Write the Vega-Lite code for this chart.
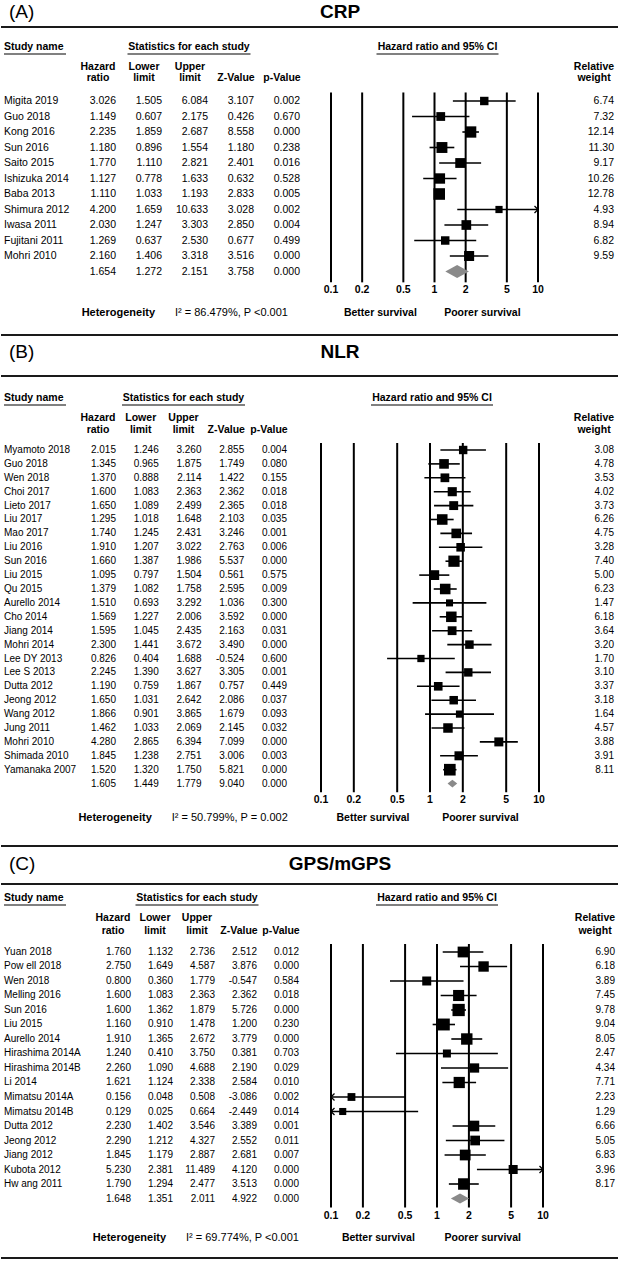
{
"$schema": "https://vega.github.io/schema/vega-lite/v6.json",
"padding": 0,
"spacing": 0,
"config": {"view": {"stroke": null}, "font": "Liberation Sans", "text": {"font": "Liberation Sans", "fontSize": 10.5, "color": "#000"}, "concat": {"spacing": 0}, "locale": {"number": {"decimal": ".", "thousands": ",", "grouping": [3], "currency": ["$", ""], "minus": "-"}}},
"datasets": {
"A": [
{"study":"Migita 2019","hr":3.026,"lo":1.505,"hi":6.084,"z":3.107,"p":0.002,"w":6.74,"order":0},
{"study":"Guo  2018","hr":1.149,"lo":0.607,"hi":2.175,"z":0.426,"p":0.670,"w":7.32,"order":1},
{"study":"Kong 2016","hr":2.235,"lo":1.859,"hi":2.687,"z":8.558,"p":0.000,"w":12.14,"order":2},
{"study":"Sun 2016","hr":1.180,"lo":0.896,"hi":1.554,"z":1.180,"p":0.238,"w":11.30,"order":3},
{"study":"Saito 2015","hr":1.770,"lo":1.110,"hi":2.821,"z":2.401,"p":0.016,"w":9.17,"order":4},
{"study":"Ishizuka 2014","hr":1.127,"lo":0.778,"hi":1.633,"z":0.632,"p":0.528,"w":10.26,"order":5},
{"study":"Baba 2013","hr":1.110,"lo":1.033,"hi":1.193,"z":2.833,"p":0.005,"w":12.78,"order":6},
{"study":"Shimura 2012","hr":4.200,"lo":1.659,"hi":10.633,"z":3.028,"p":0.002,"w":4.93,"order":7},
{"study":"Iwasa 2011","hr":2.030,"lo":1.247,"hi":3.303,"z":2.850,"p":0.004,"w":8.94,"order":8},
{"study":"Fujitani 2011","hr":1.269,"lo":0.637,"hi":2.530,"z":0.677,"p":0.499,"w":6.82,"order":9},
{"study":"Mohri 2010","hr":2.160,"lo":1.406,"hi":3.318,"z":3.516,"p":0.000,"w":9.59,"order":10},
{"study":"","hr":1.654,"lo":1.272,"hi":2.151,"z":3.758,"p":0.000,"w":null,"order":11}
],
"B": [
{"study":"Myamoto 2018","hr":2.015,"lo":1.246,"hi":3.260,"z":2.855,"p":0.004,"w":3.08,"order":0},
{"study":"Guo  2018","hr":1.345,"lo":0.965,"hi":1.875,"z":1.749,"p":0.080,"w":4.78,"order":1},
{"study":"Wen 2018","hr":1.370,"lo":0.888,"hi":2.114,"z":1.422,"p":0.155,"w":3.53,"order":2},
{"study":"Choi 2017","hr":1.600,"lo":1.083,"hi":2.363,"z":2.362,"p":0.018,"w":4.02,"order":3},
{"study":"Lieto 2017","hr":1.650,"lo":1.089,"hi":2.499,"z":2.365,"p":0.018,"w":3.73,"order":4},
{"study":"Liu 2017","hr":1.295,"lo":1.018,"hi":1.648,"z":2.103,"p":0.035,"w":6.26,"order":5},
{"study":"Mao 2017","hr":1.740,"lo":1.245,"hi":2.431,"z":3.246,"p":0.001,"w":4.75,"order":6},
{"study":"Liu 2016","hr":1.910,"lo":1.207,"hi":3.022,"z":2.763,"p":0.006,"w":3.28,"order":7},
{"study":"Sun 2016","hr":1.660,"lo":1.387,"hi":1.986,"z":5.537,"p":0.000,"w":7.40,"order":8},
{"study":"Liu 2015","hr":1.095,"lo":0.797,"hi":1.504,"z":0.561,"p":0.575,"w":5.00,"order":9},
{"study":"Qu 2015","hr":1.379,"lo":1.082,"hi":1.758,"z":2.595,"p":0.009,"w":6.23,"order":10},
{"study":"Aurello 2014","hr":1.510,"lo":0.693,"hi":3.292,"z":1.036,"p":0.300,"w":1.47,"order":11},
{"study":"Cho 2014","hr":1.569,"lo":1.227,"hi":2.006,"z":3.592,"p":0.000,"w":6.18,"order":12},
{"study":"Jiang 2014","hr":1.595,"lo":1.045,"hi":2.435,"z":2.163,"p":0.031,"w":3.64,"order":13},
{"study":"Mohri 2014","hr":2.300,"lo":1.441,"hi":3.672,"z":3.490,"p":0.000,"w":3.20,"order":14},
{"study":"Lee DY 2013","hr":0.826,"lo":0.404,"hi":1.688,"z":-0.524,"p":0.600,"w":1.70,"order":15},
{"study":"Lee S 2013","hr":2.245,"lo":1.390,"hi":3.627,"z":3.305,"p":0.001,"w":3.10,"order":16},
{"study":"Dutta 2012","hr":1.190,"lo":0.759,"hi":1.867,"z":0.757,"p":0.449,"w":3.37,"order":17},
{"study":"Jeong 2012","hr":1.650,"lo":1.031,"hi":2.642,"z":2.086,"p":0.037,"w":3.18,"order":18},
{"study":"Wang 2012","hr":1.866,"lo":0.901,"hi":3.865,"z":1.679,"p":0.093,"w":1.64,"order":19},
{"study":"Jung 2011","hr":1.462,"lo":1.033,"hi":2.069,"z":2.145,"p":0.032,"w":4.57,"order":20},
{"study":"Mohri 2010","hr":4.280,"lo":2.865,"hi":6.394,"z":7.099,"p":0.000,"w":3.88,"order":21},
{"study":"Shimada 2010","hr":1.845,"lo":1.238,"hi":2.751,"z":3.006,"p":0.003,"w":3.91,"order":22},
{"study":"Yamanaka 2007","hr":1.520,"lo":1.320,"hi":1.750,"z":5.821,"p":0.000,"w":8.11,"order":23},
{"study":"","hr":1.605,"lo":1.449,"hi":1.779,"z":9.040,"p":0.000,"w":null,"order":24}
],
"C": [
{"study":"Yuan 2018","hr":1.760,"lo":1.132,"hi":2.736,"z":2.512,"p":0.012,"w":6.90,"order":0},
{"study":"Pow ell 2018","hr":2.750,"lo":1.649,"hi":4.587,"z":3.876,"p":0.000,"w":6.18,"order":1},
{"study":"Wen 2018","hr":0.800,"lo":0.360,"hi":1.779,"z":-0.547,"p":0.584,"w":3.89,"order":2},
{"study":"Melling 2016","hr":1.600,"lo":1.083,"hi":2.363,"z":2.362,"p":0.018,"w":7.45,"order":3},
{"study":"Sun 2016","hr":1.600,"lo":1.362,"hi":1.879,"z":5.726,"p":0.000,"w":9.78,"order":4},
{"study":"Liu 2015","hr":1.160,"lo":0.910,"hi":1.478,"z":1.200,"p":0.230,"w":9.04,"order":5},
{"study":"Aurello 2014","hr":1.910,"lo":1.365,"hi":2.672,"z":3.779,"p":0.000,"w":8.05,"order":6},
{"study":"Hirashima 2014A","hr":1.240,"lo":0.410,"hi":3.750,"z":0.381,"p":0.703,"w":2.47,"order":7},
{"study":"Hirashima 2014B","hr":2.260,"lo":1.090,"hi":4.688,"z":2.190,"p":0.029,"w":4.34,"order":8},
{"study":"Li 2014","hr":1.621,"lo":1.124,"hi":2.338,"z":2.584,"p":0.010,"w":7.71,"order":9},
{"study":"Mimatsu 2014A","hr":0.156,"lo":0.048,"hi":0.508,"z":-3.086,"p":0.002,"w":2.23,"order":10},
{"study":"Mimatsu 2014B","hr":0.129,"lo":0.025,"hi":0.664,"z":-2.449,"p":0.014,"w":1.29,"order":11},
{"study":"Dutta 2012","hr":2.230,"lo":1.402,"hi":3.546,"z":3.389,"p":0.001,"w":6.66,"order":12},
{"study":"Jeong 2012","hr":2.290,"lo":1.212,"hi":4.327,"z":2.552,"p":0.011,"w":5.05,"order":13},
{"study":"Jiang 2012","hr":1.845,"lo":1.179,"hi":2.887,"z":2.681,"p":0.007,"w":6.83,"order":14},
{"study":"Kubota 2012","hr":5.230,"lo":2.381,"hi":11.489,"z":4.120,"p":0.000,"w":3.96,"order":15},
{"study":"Hw ang 2011","hr":1.790,"lo":1.294,"hi":2.477,"z":3.513,"p":0.000,"w":8.17,"order":16},
{"study":"","hr":1.648,"lo":1.351,"hi":2.011,"z":4.922,"p":0.000,"w":null,"order":17}
],
"ticks": [{"t":0.1},{"t":0.2},{"t":0.5},{"t":1},{"t":2},{"t":5},{"t":10}],
"headers": [{"col":"hr","label":"Hazard|ratio"},{"col":"lo","label":"Lower|limit"},{"col":"hi","label":"Upper|limit"},{"col":"z","label":" |Z-Value"},{"col":"p","label":" |p-Value"}]
},
"vconcat": [
{"width":618,"height":334,
"resolve":{"scale":{"x":"independent","size":"independent"}},
"layer":[
{"data":{"values":[{}]},"mark":{"type":"rule","strokeWidth":2,"color":"#1a1a1a"},"encoding":{"y":{"datum":-4.774,"type":"quantitative","scale":{"domain":[-6.516,15.032],"reverse":true,"nice":false,"zero":false},"axis":null}}},
{"data":{"values":[{}]},"mark":{"type":"text","align":"left","baseline":"middle","fontSize":19,"dx":5},"encoding":{"x":{"datum":"n","type":"nominal","scale":{"domain":["n"],"range":[3,3]},"axis":null},"y":{"datum":-5.742,"type":"quantitative","scale":{"domain":[-6.516,15.032],"reverse":true,"nice":false,"zero":false},"axis":null},"text":{"value":"(A)"}}},
{"data":{"values":[{}]},"mark":{"type":"text","align":"center","baseline":"middle","fontSize":19,"fontWeight":"bold","dx":336},"encoding":{"x":{"datum":"n","type":"nominal","scale":{"domain":["n"],"range":[3,3]},"axis":null},"y":{"datum":-5.742,"type":"quantitative","scale":{"domain":[-6.516,15.032],"reverse":true,"nice":false,"zero":false},"axis":null},"text":{"value":"CRP"}}},
{"data":{"values":[{}]},"mark":{"type":"text","align":"left","baseline":"middle","fontWeight":"bold"},"encoding":{"x":{"datum":"n","type":"nominal","scale":{"domain":["n"],"range":[3,3]},"axis":null},"y":{"datum":-3.484,"type":"quantitative","scale":{"domain":[-6.516,15.032],"reverse":true,"nice":false,"zero":false},"axis":null},"text":{"value":"Study name"}}},
{"data":{"values":[{}]},"mark":{"type":"tick","orient":"horizontal","size":62,"thickness":2,"xOffset":31,"color":"#808080","opacity":1},"encoding":{"x":{"datum":"n","type":"nominal","scale":{"domain":["n"],"range":[3,3]},"axis":null},"y":{"datum":-3.032,"type":"quantitative","scale":{"domain":[-6.516,15.032],"reverse":true,"nice":false,"zero":false},"axis":null}}},
{"data":{"values":[{}]},"mark":{"type":"text","align":"center","baseline":"middle","fontWeight":"bold","dx":-19},"encoding":{"x":{"datum":"hi","type":"nominal","scale":{"domain":["hr","lo","hi","z","p"],"range":[115,299],"padding":0},"axis":null},"y":{"datum":-3.484,"type":"quantitative","scale":{"domain":[-6.516,15.032],"reverse":true,"nice":false,"zero":false},"axis":null},"text":{"value":"Statistics for each study"}}},
{"data":{"values":[{}]},"mark":{"type":"tick","orient":"horizontal","size":123,"thickness":2,"xOffset":-19,"color":"#808080","opacity":1},"encoding":{"x":{"datum":"hi","type":"nominal","scale":{"domain":["hr","lo","hi","z","p"],"range":[115,299],"padding":0},"axis":null},"y":{"datum":-3.032,"type":"quantitative","scale":{"domain":[-6.516,15.032],"reverse":true,"nice":false,"zero":false},"axis":null}}},
{"data":{"values":[{}]},"mark":{"type":"text","align":"center","baseline":"middle","fontWeight":"bold","dx":3},"encoding":{"x":{"datum":1,"type":"quantitative","scale":{"type":"log","domain":[0.1,10],"range":[330,537],"clamp":true,"nice":false},"axis":null},"y":{"datum":-3.484,"type":"quantitative","scale":{"domain":[-6.516,15.032],"reverse":true,"nice":false,"zero":false},"axis":null},"text":{"value":"Hazard ratio and 95% CI"}}},
{"data":{"values":[{}]},"mark":{"type":"tick","orient":"horizontal","size":122,"thickness":2,"xOffset":3,"color":"#808080","opacity":1},"encoding":{"x":{"datum":1,"type":"quantitative","scale":{"type":"log","domain":[0.1,10],"range":[330,537],"clamp":true,"nice":false},"axis":null},"y":{"datum":-3.032,"type":"quantitative","scale":{"domain":[-6.516,15.032],"reverse":true,"nice":false,"zero":false},"axis":null}}},
{"data":{"name":"headers"},"mark":{"type":"text","align":"center","baseline":"middle","fontWeight":"bold","lineBreak":"|","lineHeight":11.5,"dx":-18},"encoding":{"x":{"field":"col","type":"nominal","scale":{"domain":["hr","lo","hi","z","p"],"range":[115,299],"padding":0},"axis":null},"y":{"datum":-2.194,"type":"quantitative","scale":{"domain":[-6.516,15.032],"reverse":true,"nice":false,"zero":false},"axis":null},"text":{"field":"label"}}},
{"data":{"values":[{}]},"mark":{"type":"text","align":"center","baseline":"middle","fontWeight":"bold","lineBreak":"|","lineHeight":11.5,"dx":-20},"encoding":{"x":{"datum":"w","type":"nominal","scale":{"domain":["w"],"range":[613,613]},"axis":null},"y":{"datum":-2.194,"type":"quantitative","scale":{"domain":[-6.516,15.032],"reverse":true,"nice":false,"zero":false},"axis":null},"text":{"value":"Relative|weight"}}},
{"data":{"name":"A"},"mark":{"type":"text","align":"left","baseline":"middle"},"encoding":{"x":{"field":"study","type":"nominal","scale":{"range":[3,3]},"axis":null},"y":{"field":"order","type":"quantitative","scale":{"domain":[-6.516,15.032],"reverse":true,"nice":false,"zero":false},"axis":null},"text":{"field":"study"}}},
{"data":{"name":"A"},"transform":[{"fold":["hr","lo","hi","z","p"],"as":["col","val"]}],"mark":{"type":"text","align":"right","baseline":"middle"},"encoding":{"x":{"field":"col","type":"nominal","scale":{"domain":["hr","lo","hi","z","p"],"range":[115,299],"padding":0},"axis":null},"y":{"field":"order","type":"quantitative","scale":{"domain":[-6.516,15.032],"reverse":true,"nice":false,"zero":false},"axis":null},"text":{"field":"val","type":"quantitative","format":".3f"}}},
{"data":{"name":"A"},"transform":[{"filter":{"field":"w","valid":true}}],"mark":{"type":"text","align":"right","baseline":"middle"},"encoding":{"x":{"field":"study","type":"nominal","scale":{"range":[613,613]},"axis":null},"y":{"field":"order","type":"quantitative","scale":{"domain":[-6.516,15.032],"reverse":true,"nice":false,"zero":false},"axis":null},"text":{"field":"w","type":"quantitative","format":".2f"}}},
{"data":{"name":"ticks"},"mark":{"type":"rule","strokeWidth":2,"color":"#000"},"encoding":{"x":{"field":"t","type":"quantitative","scale":{"type":"log","domain":[0.1,10],"range":[330,537],"clamp":true,"nice":false},"axis":null},"y":{"datum":-0.55,"type":"quantitative","scale":{"domain":[-6.516,15.032],"reverse":true,"nice":false,"zero":false},"axis":null},"y2":{"datum":11.7}}},
{"data":{"name":"A"},"transform":[{"filter":{"field":"w","valid":true}}],"mark":{"type":"rule","strokeWidth":1.6,"color":"#000"},"encoding":{"x":{"field":"lo","type":"quantitative","scale":{"type":"log","domain":[0.1,10],"range":[330,537],"clamp":true,"nice":false},"axis":null},"x2":{"field":"hi"},"y":{"field":"order","type":"quantitative","scale":{"domain":[-6.516,15.032],"reverse":true,"nice":false,"zero":false},"axis":null}}},
{"data":{"name":"A"},"transform":[{"filter":{"field":"w","valid":true}}],"mark":{"type":"point","shape":"square","filled":true,"color":"#000","opacity":1},"encoding":{"x":{"field":"hr","type":"quantitative","scale":{"type":"log","domain":[0.1,10],"range":[330,537],"clamp":true,"nice":false},"axis":null},"y":{"field":"order","type":"quantitative","scale":{"domain":[-6.516,15.032],"reverse":true,"nice":false,"zero":false},"axis":null},"size":{"field":"w","type":"quantitative","scale":{"domain":[0,13],"range":[0,137]},"legend":null}}},
{"data":{"name":"A"},"transform":[{"filter":"!isValid(datum.w)"}],"mark":{"type":"point","shape":"M-1,0L0,-0.55L1,0L0,0.55Z","filled":true,"color":"#8a8a8a","opacity":1,"size":557},"encoding":{"x":{"field":"hr","type":"quantitative","scale":{"type":"log","domain":[0.1,10],"range":[330,537],"clamp":true,"nice":false},"axis":null},"y":{"field":"order","type":"quantitative","scale":{"domain":[-6.516,15.032],"reverse":true,"nice":false,"zero":false},"axis":null}}},
{"data":{"name":"A"},"transform":[{"filter":"datum.hi > 10"}],"mark":{"type":"point","shape":"M-1,-1L0,0L-1,1","filled":false,"color":"#000","strokeWidth":1.3,"opacity":1,"size":49},"encoding":{"x":{"field":"hi","type":"quantitative","scale":{"type":"log","domain":[0.1,10],"range":[330,537],"clamp":true,"nice":false},"axis":null},"y":{"field":"order","type":"quantitative","scale":{"domain":[-6.516,15.032],"reverse":true,"nice":false,"zero":false},"axis":null}}},
{"data":{"name":"ticks"},"mark":{"type":"text","align":"center","baseline":"middle","fontWeight":"bold"},"encoding":{"x":{"field":"t","type":"quantitative","scale":{"type":"log","domain":[0.1,10],"range":[330,537],"clamp":true,"nice":false},"axis":null},"y":{"datum":12.194,"type":"quantitative","scale":{"domain":[-6.516,15.032],"reverse":true,"nice":false,"zero":false},"axis":null},"text":{"field":"t","type":"quantitative","format":"~g"}}},
{"data":{"values":[{}]},"mark":{"type":"text","align":"center","baseline":"middle","fontWeight":"bold"},"encoding":{"x":{"datum":0.3,"type":"quantitative","scale":{"type":"log","domain":[0.1,10],"range":[330,537],"clamp":true,"nice":false},"axis":null},"y":{"datum":13.65,"type":"quantitative","scale":{"domain":[-6.516,15.032],"reverse":true,"nice":false,"zero":false},"axis":null},"text":{"value":"Better survival"}}},
{"data":{"values":[{}]},"mark":{"type":"text","align":"center","baseline":"middle","fontWeight":"bold"},"encoding":{"x":{"datum":2.9,"type":"quantitative","scale":{"type":"log","domain":[0.1,10],"range":[330,537],"clamp":true,"nice":false},"axis":null},"y":{"datum":13.65,"type":"quantitative","scale":{"domain":[-6.516,15.032],"reverse":true,"nice":false,"zero":false},"axis":null},"text":{"value":"Poorer survival"}}},
{"data":{"values":[{}]},"mark":{"type":"text","align":"right","baseline":"middle","fontWeight":"bold","fontSize":11,"dx":-7},"encoding":{"x":{"datum":"lo","type":"nominal","scale":{"domain":["hr","lo","hi","z","p"],"range":[115,299],"padding":0},"axis":null},"y":{"datum":13.65,"type":"quantitative","scale":{"domain":[-6.516,15.032],"reverse":true,"nice":false,"zero":false},"axis":null},"text":{"value":"Heterogeneity"}}},
{"data":{"values":[{}]},"mark":{"type":"text","align":"left","baseline":"middle","fontSize":11,"dx":13},"encoding":{"x":{"datum":"lo","type":"nominal","scale":{"domain":["hr","lo","hi","z","p"],"range":[115,299],"padding":0},"axis":null},"y":{"datum":13.65,"type":"quantitative","scale":{"domain":[-6.516,15.032],"reverse":true,"nice":false,"zero":false},"axis":null},"text":{"value":"I² = 86.479%, P <0.001"}}}
]},
{"width":618,"height":511,
"resolve":{"scale":{"x":"independent","size":"independent"}},
"layer":[
{"data":{"values":[{}]},"mark":{"type":"rule","strokeWidth":2,"color":"#1a1a1a"},"encoding":{"y":{"datum":-8.273,"type":"quantitative","scale":{"domain":[-8.345,28.417],"reverse":true,"nice":false,"zero":false},"axis":null}}},
{"data":{"values":[{}]},"mark":{"type":"rule","strokeWidth":2,"color":"#1a1a1a"},"encoding":{"y":{"datum":-5.324,"type":"quantitative","scale":{"domain":[-8.345,28.417],"reverse":true,"nice":false,"zero":false},"axis":null}}},
{"data":{"values":[{}]},"mark":{"type":"text","align":"left","baseline":"middle","fontSize":19,"dx":5},"encoding":{"x":{"datum":"n","type":"nominal","scale":{"domain":["n"],"range":[3,3]},"axis":null},"y":{"datum":-7.05,"type":"quantitative","scale":{"domain":[-8.345,28.417],"reverse":true,"nice":false,"zero":false},"axis":null},"text":{"value":"(B)"}}},
{"data":{"values":[{}]},"mark":{"type":"text","align":"center","baseline":"middle","fontSize":19,"fontWeight":"bold","dx":336},"encoding":{"x":{"datum":"n","type":"nominal","scale":{"domain":["n"],"range":[3,3]},"axis":null},"y":{"datum":-7.05,"type":"quantitative","scale":{"domain":[-8.345,28.417],"reverse":true,"nice":false,"zero":false},"axis":null},"text":{"value":"NLR"}}},
{"data":{"values":[{}]},"mark":{"type":"text","align":"left","baseline":"middle","fontWeight":"bold"},"encoding":{"x":{"datum":"n","type":"nominal","scale":{"domain":["n"],"range":[3,3]},"axis":null},"y":{"datum":-3.741,"type":"quantitative","scale":{"domain":[-8.345,28.417],"reverse":true,"nice":false,"zero":false},"axis":null},"text":{"value":"Study name"}}},
{"data":{"values":[{}]},"mark":{"type":"tick","orient":"horizontal","size":62,"thickness":2,"xOffset":31,"color":"#808080","opacity":1},"encoding":{"x":{"datum":"n","type":"nominal","scale":{"domain":["n"],"range":[3,3]},"axis":null},"y":{"datum":-3.237,"type":"quantitative","scale":{"domain":[-8.345,28.417],"reverse":true,"nice":false,"zero":false},"axis":null}}},
{"data":{"values":[{}]},"mark":{"type":"text","align":"center","baseline":"middle","fontWeight":"bold","dx":-18},"encoding":{"x":{"datum":"hi","type":"nominal","scale":{"domain":["hr","lo","hi","z","p"],"range":[115,286],"padding":0},"axis":null},"y":{"datum":-3.741,"type":"quantitative","scale":{"domain":[-8.345,28.417],"reverse":true,"nice":false,"zero":false},"axis":null},"text":{"value":"Statistics for each study"}}},
{"data":{"values":[{}]},"mark":{"type":"tick","orient":"horizontal","size":123,"thickness":2,"xOffset":-18,"color":"#808080","opacity":1},"encoding":{"x":{"datum":"hi","type":"nominal","scale":{"domain":["hr","lo","hi","z","p"],"range":[115,286],"padding":0},"axis":null},"y":{"datum":-3.237,"type":"quantitative","scale":{"domain":[-8.345,28.417],"reverse":true,"nice":false,"zero":false},"axis":null}}},
{"data":{"values":[{}]},"mark":{"type":"text","align":"center","baseline":"middle","fontWeight":"bold","dx":2},"encoding":{"x":{"datum":1,"type":"quantitative","scale":{"type":"log","domain":[0.1,10],"range":[320,538],"clamp":true,"nice":false},"axis":null},"y":{"datum":-3.741,"type":"quantitative","scale":{"domain":[-8.345,28.417],"reverse":true,"nice":false,"zero":false},"axis":null},"text":{"value":"Hazard ratio and 95% CI"}}},
{"data":{"values":[{}]},"mark":{"type":"tick","orient":"horizontal","size":122,"thickness":2,"xOffset":2,"color":"#808080","opacity":1},"encoding":{"x":{"datum":1,"type":"quantitative","scale":{"type":"log","domain":[0.1,10],"range":[320,538],"clamp":true,"nice":false},"axis":null},"y":{"datum":-3.237,"type":"quantitative","scale":{"domain":[-8.345,28.417],"reverse":true,"nice":false,"zero":false},"axis":null}}},
{"data":{"name":"headers"},"mark":{"type":"text","align":"center","baseline":"middle","fontWeight":"bold","lineBreak":"|","lineHeight":12,"dx":-18},"encoding":{"x":{"field":"col","type":"nominal","scale":{"domain":["hr","lo","hi","z","p"],"range":[115,286],"padding":0},"axis":null},"y":{"datum":-2.302,"type":"quantitative","scale":{"domain":[-8.345,28.417],"reverse":true,"nice":false,"zero":false},"axis":null},"text":{"field":"label"}}},
{"data":{"values":[{}]},"mark":{"type":"text","align":"center","baseline":"middle","fontWeight":"bold","lineBreak":"|","lineHeight":12,"dx":-20},"encoding":{"x":{"datum":"w","type":"nominal","scale":{"domain":["w"],"range":[613,613]},"axis":null},"y":{"datum":-2.302,"type":"quantitative","scale":{"domain":[-8.345,28.417],"reverse":true,"nice":false,"zero":false},"axis":null},"text":{"value":"Relative|weight"}}},
{"data":{"name":"B"},"mark":{"type":"text","align":"left","baseline":"middle","fontSize":10},"encoding":{"x":{"field":"study","type":"nominal","scale":{"range":[3,3]},"axis":null},"y":{"field":"order","type":"quantitative","scale":{"domain":[-8.345,28.417],"reverse":true,"nice":false,"zero":false},"axis":null},"text":{"field":"study"}}},
{"data":{"name":"B"},"transform":[{"fold":["hr","lo","hi","z","p"],"as":["col","val"]}],"mark":{"type":"text","align":"right","baseline":"middle","fontSize":10},"encoding":{"x":{"field":"col","type":"nominal","scale":{"domain":["hr","lo","hi","z","p"],"range":[115,286],"padding":0},"axis":null},"y":{"field":"order","type":"quantitative","scale":{"domain":[-8.345,28.417],"reverse":true,"nice":false,"zero":false},"axis":null},"text":{"field":"val","type":"quantitative","format":".3f"}}},
{"data":{"name":"B"},"transform":[{"filter":{"field":"w","valid":true}}],"mark":{"type":"text","align":"right","baseline":"middle","fontSize":10},"encoding":{"x":{"field":"study","type":"nominal","scale":{"range":[613,613]},"axis":null},"y":{"field":"order","type":"quantitative","scale":{"domain":[-8.345,28.417],"reverse":true,"nice":false,"zero":false},"axis":null},"text":{"field":"w","type":"quantitative","format":".2f"}}},
{"data":{"name":"ticks"},"mark":{"type":"rule","strokeWidth":2,"color":"#000"},"encoding":{"x":{"field":"t","type":"quantitative","scale":{"type":"log","domain":[0.1,10],"range":[320,538],"clamp":true,"nice":false},"axis":null},"y":{"datum":-0.5,"type":"quantitative","scale":{"domain":[-8.345,28.417],"reverse":true,"nice":false,"zero":false},"axis":null},"y2":{"datum":24.62}}},
{"data":{"name":"B"},"transform":[{"filter":{"field":"w","valid":true}}],"mark":{"type":"rule","strokeWidth":1.6,"color":"#000"},"encoding":{"x":{"field":"lo","type":"quantitative","scale":{"type":"log","domain":[0.1,10],"range":[320,538],"clamp":true,"nice":false},"axis":null},"x2":{"field":"hi"},"y":{"field":"order","type":"quantitative","scale":{"domain":[-8.345,28.417],"reverse":true,"nice":false,"zero":false},"axis":null}}},
{"data":{"name":"B"},"transform":[{"filter":{"field":"w","valid":true}}],"mark":{"type":"point","shape":"square","filled":true,"color":"#000","opacity":1},"encoding":{"x":{"field":"hr","type":"quantitative","scale":{"type":"log","domain":[0.1,10],"range":[320,538],"clamp":true,"nice":false},"axis":null},"y":{"field":"order","type":"quantitative","scale":{"domain":[-8.345,28.417],"reverse":true,"nice":false,"zero":false},"axis":null},"size":{"field":"w","type":"quantitative","scale":{"domain":[1.4,8.2],"range":[49,137]},"legend":null}}},
{"data":{"name":"B"},"transform":[{"filter":"!isValid(datum.w)"}],"mark":{"type":"point","shape":"M-1,0L0,-0.82L1,0L0,0.82Z","filled":true,"color":"#8a8a8a","opacity":1,"size":94},"encoding":{"x":{"field":"hr","type":"quantitative","scale":{"type":"log","domain":[0.1,10],"range":[320,538],"clamp":true,"nice":false},"axis":null},"y":{"field":"order","type":"quantitative","scale":{"domain":[-8.345,28.417],"reverse":true,"nice":false,"zero":false},"axis":null}}},
{"data":{"name":"ticks"},"mark":{"type":"text","align":"center","baseline":"middle","fontWeight":"bold"},"encoding":{"x":{"field":"t","type":"quantitative","scale":{"type":"log","domain":[0.1,10],"range":[320,538],"clamp":true,"nice":false},"axis":null},"y":{"datum":25.18,"type":"quantitative","scale":{"domain":[-8.345,28.417],"reverse":true,"nice":false,"zero":false},"axis":null},"text":{"field":"t","type":"quantitative","format":"~g"}}},
{"data":{"values":[{}]},"mark":{"type":"text","align":"center","baseline":"middle","fontWeight":"bold"},"encoding":{"x":{"datum":0.3,"type":"quantitative","scale":{"type":"log","domain":[0.1,10],"range":[320,538],"clamp":true,"nice":false},"axis":null},"y":{"datum":26.47,"type":"quantitative","scale":{"domain":[-8.345,28.417],"reverse":true,"nice":false,"zero":false},"axis":null},"text":{"value":"Better survival"}}},
{"data":{"values":[{}]},"mark":{"type":"text","align":"center","baseline":"middle","fontWeight":"bold"},"encoding":{"x":{"datum":2.9,"type":"quantitative","scale":{"type":"log","domain":[0.1,10],"range":[320,538],"clamp":true,"nice":false},"axis":null},"y":{"datum":26.47,"type":"quantitative","scale":{"domain":[-8.345,28.417],"reverse":true,"nice":false,"zero":false},"axis":null},"text":{"value":"Poorer survival"}}},
{"data":{"values":[{}]},"mark":{"type":"text","align":"right","baseline":"middle","fontWeight":"bold","fontSize":11,"dx":-7},"encoding":{"x":{"datum":"lo","type":"nominal","scale":{"domain":["hr","lo","hi","z","p"],"range":[115,286],"padding":0},"axis":null},"y":{"datum":26.47,"type":"quantitative","scale":{"domain":[-8.345,28.417],"reverse":true,"nice":false,"zero":false},"axis":null},"text":{"value":"Heterogeneity"}}},
{"data":{"values":[{}]},"mark":{"type":"text","align":"left","baseline":"middle","fontSize":11,"dx":13},"encoding":{"x":{"datum":"lo","type":"nominal","scale":{"domain":["hr","lo","hi","z","p"],"range":[115,286],"padding":0},"axis":null},"y":{"datum":26.47,"type":"quantitative","scale":{"domain":[-8.345,28.417],"reverse":true,"nice":false,"zero":false},"axis":null},"text":{"value":"I² = 50.799%, P = 0.002"}}}
]},
{"width":618,"height":421,
"resolve":{"scale":{"x":"independent","size":"independent"}},
"layer":[
{"data":{"values":[{}]},"mark":{"type":"rule","strokeWidth":2,"color":"#1a1a1a"},"encoding":{"y":{"datum":-7.31,"type":"quantitative","scale":{"domain":[-7.379,21.655],"reverse":true,"nice":false,"zero":false},"axis":null}}},
{"data":{"values":[{}]},"mark":{"type":"rule","strokeWidth":2,"color":"#1a1a1a"},"encoding":{"y":{"datum":-4.69,"type":"quantitative","scale":{"domain":[-7.379,21.655],"reverse":true,"nice":false,"zero":false},"axis":null}}},
{"data":{"values":[{}]},"mark":{"type":"rule","strokeWidth":2,"color":"#1a1a1a"},"encoding":{"y":{"datum":21.1,"type":"quantitative","scale":{"domain":[-7.379,21.655],"reverse":true,"nice":false,"zero":false},"axis":null}}},
{"data":{"values":[{}]},"mark":{"type":"text","align":"left","baseline":"middle","fontSize":19,"dx":5},"encoding":{"x":{"datum":"n","type":"nominal","scale":{"domain":["n"],"range":[3,3]},"axis":null},"y":{"datum":-6.069,"type":"quantitative","scale":{"domain":[-7.379,21.655],"reverse":true,"nice":false,"zero":false},"axis":null},"text":{"value":"(C)"}}},
{"data":{"values":[{}]},"mark":{"type":"text","align":"center","baseline":"middle","fontSize":19,"fontWeight":"bold","dx":336},"encoding":{"x":{"datum":"n","type":"nominal","scale":{"domain":["n"],"range":[3,3]},"axis":null},"y":{"datum":-6.069,"type":"quantitative","scale":{"domain":[-7.379,21.655],"reverse":true,"nice":false,"zero":false},"axis":null},"text":{"value":"GPS/mGPS"}}},
{"data":{"values":[{}]},"mark":{"type":"text","align":"left","baseline":"middle","fontWeight":"bold"},"encoding":{"x":{"datum":"n","type":"nominal","scale":{"domain":["n"],"range":[3,3]},"axis":null},"y":{"datum":-3.724,"type":"quantitative","scale":{"domain":[-7.379,21.655],"reverse":true,"nice":false,"zero":false},"axis":null},"text":{"value":"Study name"}}},
{"data":{"values":[{}]},"mark":{"type":"tick","orient":"horizontal","size":62,"thickness":2,"xOffset":31,"color":"#808080","opacity":1},"encoding":{"x":{"datum":"n","type":"nominal","scale":{"domain":["n"],"range":[3,3]},"axis":null},"y":{"datum":-3.241,"type":"quantitative","scale":{"domain":[-7.379,21.655],"reverse":true,"nice":false,"zero":false},"axis":null}}},
{"data":{"values":[{}]},"mark":{"type":"text","align":"center","baseline":"middle","fontWeight":"bold","dx":-18},"encoding":{"x":{"datum":"hi","type":"nominal","scale":{"domain":["hr","lo","hi","z","p"],"range":[130,298],"padding":0},"axis":null},"y":{"datum":-3.724,"type":"quantitative","scale":{"domain":[-7.379,21.655],"reverse":true,"nice":false,"zero":false},"axis":null},"text":{"value":"Statistics for each study"}}},
{"data":{"values":[{}]},"mark":{"type":"tick","orient":"horizontal","size":123,"thickness":2,"xOffset":-18,"color":"#808080","opacity":1},"encoding":{"x":{"datum":"hi","type":"nominal","scale":{"domain":["hr","lo","hi","z","p"],"range":[130,298],"padding":0},"axis":null},"y":{"datum":-3.241,"type":"quantitative","scale":{"domain":[-7.379,21.655],"reverse":true,"nice":false,"zero":false},"axis":null}}},
{"data":{"values":[{}]},"mark":{"type":"text","align":"center","baseline":"middle","fontWeight":"bold","dx":0},"encoding":{"x":{"datum":1,"type":"quantitative","scale":{"type":"log","domain":[0.1,10],"range":[330,542],"clamp":true,"nice":false},"axis":null},"y":{"datum":-3.724,"type":"quantitative","scale":{"domain":[-7.379,21.655],"reverse":true,"nice":false,"zero":false},"axis":null},"text":{"value":"Hazard ratio and 95% CI"}}},
{"data":{"values":[{}]},"mark":{"type":"tick","orient":"horizontal","size":122,"thickness":2,"xOffset":0,"color":"#808080","opacity":1},"encoding":{"x":{"datum":1,"type":"quantitative","scale":{"type":"log","domain":[0.1,10],"range":[330,542],"clamp":true,"nice":false},"axis":null},"y":{"datum":-3.241,"type":"quantitative","scale":{"domain":[-7.379,21.655],"reverse":true,"nice":false,"zero":false},"axis":null}}},
{"data":{"name":"headers"},"mark":{"type":"text","align":"center","baseline":"middle","fontWeight":"bold","lineBreak":"|","lineHeight":13.5,"dx":-18},"encoding":{"x":{"field":"col","type":"nominal","scale":{"domain":["hr","lo","hi","z","p"],"range":[130,298],"padding":0},"axis":null},"y":{"datum":-2.345,"type":"quantitative","scale":{"domain":[-7.379,21.655],"reverse":true,"nice":false,"zero":false},"axis":null},"text":{"field":"label"}}},
{"data":{"values":[{}]},"mark":{"type":"text","align":"center","baseline":"middle","fontWeight":"bold","lineBreak":"|","lineHeight":13.5,"dx":-20},"encoding":{"x":{"datum":"w","type":"nominal","scale":{"domain":["w"],"range":[614,614]},"axis":null},"y":{"datum":-2.345,"type":"quantitative","scale":{"domain":[-7.379,21.655],"reverse":true,"nice":false,"zero":false},"axis":null},"text":{"value":"Relative|weight"}}},
{"data":{"name":"C"},"mark":{"type":"text","align":"left","baseline":"middle","fontSize":10},"encoding":{"x":{"field":"study","type":"nominal","scale":{"range":[3,3]},"axis":null},"y":{"field":"order","type":"quantitative","scale":{"domain":[-7.379,21.655],"reverse":true,"nice":false,"zero":false},"axis":null},"text":{"field":"study"}}},
{"data":{"name":"C"},"transform":[{"fold":["hr","lo","hi","z","p"],"as":["col","val"]}],"mark":{"type":"text","align":"right","baseline":"middle","fontSize":10},"encoding":{"x":{"field":"col","type":"nominal","scale":{"domain":["hr","lo","hi","z","p"],"range":[130,298],"padding":0},"axis":null},"y":{"field":"order","type":"quantitative","scale":{"domain":[-7.379,21.655],"reverse":true,"nice":false,"zero":false},"axis":null},"text":{"field":"val","type":"quantitative","format":".3f"}}},
{"data":{"name":"C"},"transform":[{"filter":{"field":"w","valid":true}}],"mark":{"type":"text","align":"right","baseline":"middle","fontSize":10},"encoding":{"x":{"field":"study","type":"nominal","scale":{"range":[614,614]},"axis":null},"y":{"field":"order","type":"quantitative","scale":{"domain":[-7.379,21.655],"reverse":true,"nice":false,"zero":false},"axis":null},"text":{"field":"w","type":"quantitative","format":".2f"}}},
{"data":{"name":"ticks"},"mark":{"type":"rule","strokeWidth":2,"color":"#000"},"encoding":{"x":{"field":"t","type":"quantitative","scale":{"type":"log","domain":[0.1,10],"range":[330,542],"clamp":true,"nice":false},"axis":null},"y":{"datum":-0.55,"type":"quantitative","scale":{"domain":[-7.379,21.655],"reverse":true,"nice":false,"zero":false},"axis":null},"y2":{"datum":17.62}}},
{"data":{"name":"C"},"transform":[{"filter":{"field":"w","valid":true}}],"mark":{"type":"rule","strokeWidth":1.6,"color":"#000"},"encoding":{"x":{"field":"lo","type":"quantitative","scale":{"type":"log","domain":[0.1,10],"range":[330,542],"clamp":true,"nice":false},"axis":null},"x2":{"field":"hi"},"y":{"field":"order","type":"quantitative","scale":{"domain":[-7.379,21.655],"reverse":true,"nice":false,"zero":false},"axis":null}}},
{"data":{"name":"C"},"transform":[{"filter":{"field":"w","valid":true}}],"mark":{"type":"point","shape":"square","filled":true,"color":"#000","opacity":1},"encoding":{"x":{"field":"hr","type":"quantitative","scale":{"type":"log","domain":[0.1,10],"range":[330,542],"clamp":true,"nice":false},"axis":null},"y":{"field":"order","type":"quantitative","scale":{"domain":[-7.379,21.655],"reverse":true,"nice":false,"zero":false},"axis":null},"size":{"field":"w","type":"quantitative","scale":{"domain":[1.2,9.8],"range":[49,151]},"legend":null}}},
{"data":{"name":"C"},"transform":[{"filter":"!isValid(datum.w)"}],"mark":{"type":"point","shape":"M-1,0L0,-0.55L1,0L0,0.55Z","filled":true,"color":"#8a8a8a","opacity":1,"size":335},"encoding":{"x":{"field":"hr","type":"quantitative","scale":{"type":"log","domain":[0.1,10],"range":[330,542],"clamp":true,"nice":false},"axis":null},"y":{"field":"order","type":"quantitative","scale":{"domain":[-7.379,21.655],"reverse":true,"nice":false,"zero":false},"axis":null}}},
{"data":{"name":"C"},"transform":[{"filter":"datum.hi > 10"}],"mark":{"type":"point","shape":"M-1,-1L0,0L-1,1","filled":false,"color":"#000","strokeWidth":1.3,"opacity":1,"size":49},"encoding":{"x":{"field":"hi","type":"quantitative","scale":{"type":"log","domain":[0.1,10],"range":[330,542],"clamp":true,"nice":false},"axis":null},"y":{"field":"order","type":"quantitative","scale":{"domain":[-7.379,21.655],"reverse":true,"nice":false,"zero":false},"axis":null}}},
{"data":{"name":"C"},"transform":[{"filter":"datum.lo < 0.1"}],"mark":{"type":"point","shape":"M1,-1L0,0L1,1","filled":false,"color":"#000","strokeWidth":1.3,"opacity":1,"size":49},"encoding":{"x":{"field":"lo","type":"quantitative","scale":{"type":"log","domain":[0.1,10],"range":[330,542],"clamp":true,"nice":false},"axis":null},"y":{"field":"order","type":"quantitative","scale":{"domain":[-7.379,21.655],"reverse":true,"nice":false,"zero":false},"axis":null}}},
{"data":{"name":"ticks"},"mark":{"type":"text","align":"center","baseline":"middle","fontWeight":"bold"},"encoding":{"x":{"field":"t","type":"quantitative","scale":{"type":"log","domain":[0.1,10],"range":[330,542],"clamp":true,"nice":false},"axis":null},"y":{"datum":18.207,"type":"quantitative","scale":{"domain":[-7.379,21.655],"reverse":true,"nice":false,"zero":false},"axis":null},"text":{"field":"t","type":"quantitative","format":"~g"}}},
{"data":{"values":[{}]},"mark":{"type":"text","align":"center","baseline":"middle","fontWeight":"bold"},"encoding":{"x":{"datum":0.28,"type":"quantitative","scale":{"type":"log","domain":[0.1,10],"range":[330,542],"clamp":true,"nice":false},"axis":null},"y":{"datum":19.72,"type":"quantitative","scale":{"domain":[-7.379,21.655],"reverse":true,"nice":false,"zero":false},"axis":null},"text":{"value":"Better survival"}}},
{"data":{"values":[{}]},"mark":{"type":"text","align":"center","baseline":"middle","fontWeight":"bold"},"encoding":{"x":{"datum":2.7,"type":"quantitative","scale":{"type":"log","domain":[0.1,10],"range":[330,542],"clamp":true,"nice":false},"axis":null},"y":{"datum":19.72,"type":"quantitative","scale":{"domain":[-7.379,21.655],"reverse":true,"nice":false,"zero":false},"axis":null},"text":{"value":"Poorer survival"}}},
{"data":{"values":[{}]},"mark":{"type":"text","align":"right","baseline":"middle","fontWeight":"bold","fontSize":11,"dx":-7},"encoding":{"x":{"datum":"lo","type":"nominal","scale":{"domain":["hr","lo","hi","z","p"],"range":[130,298],"padding":0},"axis":null},"y":{"datum":19.72,"type":"quantitative","scale":{"domain":[-7.379,21.655],"reverse":true,"nice":false,"zero":false},"axis":null},"text":{"value":"Heterogeneity"}}},
{"data":{"values":[{}]},"mark":{"type":"text","align":"left","baseline":"middle","fontSize":11,"dx":13},"encoding":{"x":{"datum":"lo","type":"nominal","scale":{"domain":["hr","lo","hi","z","p"],"range":[130,298],"padding":0},"axis":null},"y":{"datum":19.72,"type":"quantitative","scale":{"domain":[-7.379,21.655],"reverse":true,"nice":false,"zero":false},"axis":null},"text":{"value":"I² = 69.774%, P <0.001"}}}
]}
]
}
